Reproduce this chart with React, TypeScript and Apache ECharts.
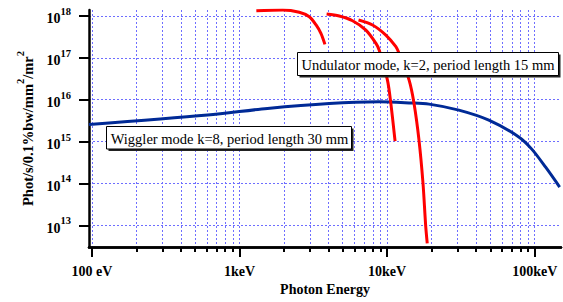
import React, { useEffect, useRef } from 'react';
import * as echarts from 'echarts';

// Photon energy in eV, brilliance in Phot/s/0.1%bw/mm^2/mr^2
const wigglerEnergy = [95.4, 608, 1545, 4055, 8830, 14090, 19230, 30620, 48870, 78000, 95500, 118600, 147600];
const wigglerFlux = [2.56e15, 4.29e15, 6.2e15, 8.15e15, 8.9e15, 8.4e15, 7.85e15, 5.64e15, 3.25e15, 1.29e15, 6.6e14, 2.44e14, 8.2e13];

const und1Energy = [1300, 1960, 2540, 2970, 3300, 3560, 3790];
const und1Flux = [1.34e18, 1.39e18, 1.23e18, 9.6e17, 6.1e17, 3.85e17, 2.1e17];

const und2Energy = [3890, 4740, 5830, 7180, 8400, 8830, 10050, 10590, 11320];
const und2Flux = [1.12e18, 1.0e18, 7.7e17, 4.6e17, 2.22e17, 1.54e17, 2.94e16, 8.3e15, 1.02e15];

const und3Energy = [6400, 7960, 9800, 11460, 12050, 14090, 15200, 16440, 17500, 18240, 18700];
const und3Flux = [8.0e17, 6.1e17, 3.5e17, 1.85e17, 1.28e17, 2.94e16, 8.3e15, 1.08e15, 1.01e14, 1.0e13, 3.7e12];

const xMajorTicks = [100, 1000, 10000, 100000];
const xTickLabels = ['100 eV', '1keV', '10keV', '100keV'];
const xMinorTicks = [
  200, 300, 400, 500, 600, 700, 800, 900,
  2000, 3000, 4000, 5000, 6000, 7000, 8000, 9000,
  20000, 30000, 40000, 50000, 60000, 70000, 80000, 90000,
];
const yTickExponents = [13, 14, 15, 16, 17, 18];

const xRange = [95.5, 150700];
const yRange = [3.03e12, 1.39e18];

const undulatorLabel = 'Undulator mode, k=2, period length 15 mm';
const wigglerLabel = 'Wiggler mode k=8, period length 30 mm';

const FONT = '"Liberation Serif", "Times New Roman", serif';
const GRID_COLOR = '#6e6eff';

const lg = (v: number) => Math.log10(v);
const toPairs = (xs: number[], ys: number[]) => xs.map((x, i) => [lg(x), lg(ys[i])]);

export default function App() {
  const ref = useRef<HTMLDivElement>(null);

  useEffect(() => {
    if (!ref.current) return;
    const chart = echarts.init(ref.current, undefined, { renderer: 'svg' });
    const majorLog = xMajorTicks.map(lg);
    const minorLog = xMinorTicks.map(lg);
    const xMin = lg(xRange[0]);
    const xMax = lg(xRange[1]);
    const yMin = lg(yRange[0]);
    const yMax = lg(yRange[1]);

    const splitLine = { show: true, lineStyle: { color: GRID_COLOR, type: [2, 2], width: 1 } };
    const axisLine = { show: true, onZero: false, lineStyle: { color: '#000', width: 2.5 } };

    const lineSeries = (name: string, data: number[][], color: string) => ({
      name,
      type: 'line',
      xAxisIndex: 0,
      yAxisIndex: 0,
      data,
      smooth: 0.3,
      showSymbol: false,
      symbol: 'none',
      lineStyle: { color, width: 3 },
      z: 5,
    });

    chart.setOption({
      animation: false,
      backgroundColor: '#ffffff',
      textStyle: { fontFamily: FONT },
      grid: { left: 89, right: 2, top: 10, bottom: 55, containLabel: false },
      xAxis: [
        {
          type: 'value',
          min: xMin,
          max: xMax,
          position: 'bottom',
          axisLine,
          axisTick: { show: true, customValues: majorLog, length: 10, lineStyle: { color: '#000', width: 2 } },
          axisLabel: {
            show: true,
            customValues: majorLog,
            margin: 17,
            fontFamily: FONT,
            fontWeight: 'bold',
            fontSize: 14,
            color: '#000',
            formatter: (v: number) => {
              const i = majorLog.findIndex((m) => Math.abs(m - v) < 1e-6);
              return i >= 0 ? xTickLabels[i] : '';
            },
          },
          splitLine,
          name: 'Photon Energy',
          nameLocation: 'middle',
          nameGap: 35,
          nameTextStyle: { fontFamily: FONT, fontWeight: 'bold', fontSize: 14, color: '#000' },
        },
        {
          type: 'value',
          min: xMin,
          max: xMax,
          position: 'bottom',
          offset: 0,
          axisLine,
          axisTick: { show: true, customValues: minorLog, length: 5, lineStyle: { color: '#000', width: 2 } },
          axisLabel: { show: false },
          splitLine,
        },
      ],
      yAxis: [
        {
          type: 'value',
          min: yMin,
          max: yMax,
          position: 'left',
          axisLine,
          axisTick: { show: true, customValues: yTickExponents, length: 10, lineStyle: { color: '#000', width: 2 } },
          axisLabel: {
            show: true,
            customValues: yTickExponents,
            margin: 18,
            color: '#000',
            formatter: (v: number) => `{b|10}{s|${Math.round(v)}}`,
            rich: {
              b: { fontFamily: FONT, fontWeight: 'bold', fontSize: 14, verticalAlign: 'bottom', color: '#000' },
              s: { fontFamily: FONT, fontWeight: 'bold', fontSize: 10.5, padding: [0, 0, 9, 0], verticalAlign: 'top', color: '#000' },
            },
          },
          splitLine,
          name: '{t|Phot/s/0.1%bw/mm}{s|2}{t|/mr}{s|2}',
          nameLocation: 'middle',
          nameGap: 50,
          nameTextStyle: {
            color: '#000',
            rich: {
              t: { fontFamily: FONT, fontWeight: 'bold', fontSize: 14.5, verticalAlign: 'bottom', color: '#000' },
              s: { fontFamily: FONT, fontWeight: 'bold', fontSize: 10.5, padding: [0, 0, 10, 0], verticalAlign: 'top', color: '#000' },
            },
          },
        },
      ],
      series: [
        lineSeries('Wiggler', toPairs(wigglerEnergy, wigglerFlux), '#002a96'),
        lineSeries('Undulator 1', toPairs(und1Energy, und1Flux), '#ff0000'),
        lineSeries('Undulator 2', toPairs(und2Energy, und2Flux), '#ff0000'),
        lineSeries('Undulator 3', toPairs(und3Energy, und3Flux), '#ff0000'),
      ],
      graphic: [
        { type: 'rect', z: 100, shape: { x: 299.5, y: 54.5, width: 261, height: 23 }, style: { fill: '#222' } },
        { type: 'rect', z: 101, shape: { x: 297.5, y: 52.5, width: 261, height: 23 }, style: { fill: '#fff', stroke: '#000', lineWidth: 1 } },
        {
          type: 'text', z: 102, x: 428, y: 64.5,
          style: { text: undulatorLabel, font: `14.5px ${FONT}`, fill: '#000', align: 'center', verticalAlign: 'middle' },
        },
        { type: 'rect', z: 100, shape: { x: 108.5, y: 128.5, width: 245, height: 22.5 }, style: { fill: '#222' } },
        { type: 'rect', z: 101, shape: { x: 106.5, y: 126.5, width: 245, height: 22.5 }, style: { fill: '#fff', stroke: '#000', lineWidth: 1 } },
        {
          type: 'text', z: 102, x: 229.5, y: 138.5,
          style: { text: wigglerLabel, font: `14.5px ${FONT}`, fill: '#000', align: 'center', verticalAlign: 'middle' },
        },
      ],
    });
    return () => chart.dispose();
  }, []);

  return (
    <div
      ref={ref}
      style={{ position: 'fixed', left: 0, top: 0, width: 563, height: 302, background: '#fff' }}
    />
  );
}
